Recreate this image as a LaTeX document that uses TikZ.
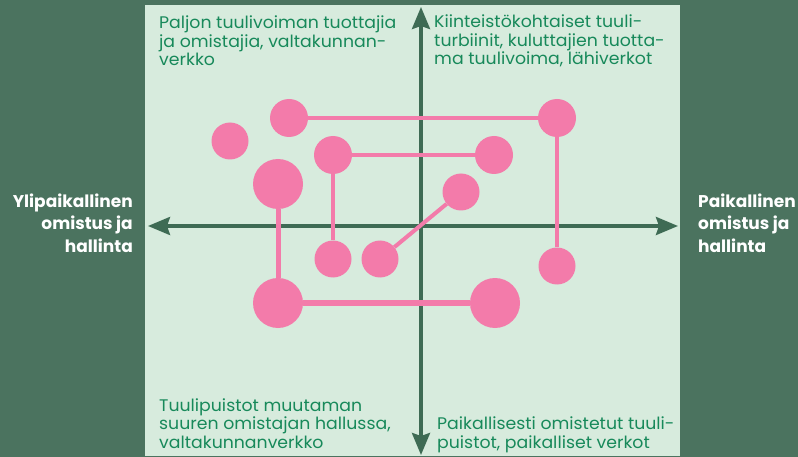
\documentclass[tikz,border=0pt]{standalone}
\usepackage{fontspec}
\setmainfont{Poppins}
\newfontfamily\qfont{Poppins}[FakeStretch=1.03]
\usetikzlibrary{arrows.meta}
\definecolor{darkbg}{HTML}{4B735F}
\definecolor{panel}{HTML}{D7EBDD}
\definecolor{axis}{HTML}{3E6B54}
\definecolor{pinkc}{HTML}{F37BAA}
\definecolor{txtg}{HTML}{17895A}
\tikzset{
  dot/.style={circle, fill=pinkc, inner sep=0pt, minimum size=#1},
  link/.style={draw=pinkc, line width=#1},
  axisline/.style={draw=axis, line width=3.5pt, -{Stealth[length=22pt,width=18pt,inset=3pt]}},
  qtext/.style={text=txtg, font=\qfont\fontsize{16.8}{18.5}\selectfont, align=left, inner sep=0pt},
  side/.style={text=white, font=\bfseries\fontsize{17}{23}\selectfont, inner sep=0pt}
}
\begin{document}
\begin{tikzpicture}[x=1pt,y=-1pt]
\useasboundingbox (0,0) rectangle (798,457);
\fill[darkbg] (0,0) rectangle (798,457);
\fill[panel] (145,5) rectangle (680,456);
% axes
\coordinate (c) at (421,226);
\coordinate (l) at (148,226);
\coordinate (r) at (678,226);
\coordinate (t) at (421,7);
\coordinate (b) at (421,455);
\draw[axisline] (c) -- (l);
\draw[axisline] (c) -- (r);
\draw[axisline] (c) -- (t);
\draw[axisline] (c) -- (b);
% dots
\node[dot=37pt] (A) at (230,141) {};
\node[dot=38pt] (B) at (289,118) {};
\node[dot=38pt] (C) at (333,155) {};
\node[dot=50pt] (D) at (278,184) {};
\node[dot=38pt] (E) at (557,118) {};
\node[dot=38pt] (F) at (494,155) {};
\node[dot=37pt] (G) at (461,192) {};
\node[dot=37pt] (H) at (333,259) {};
\node[dot=37pt] (I) at (380,259) {};
\node[dot=50pt] (J) at (278,303) {};
\node[dot=37pt] (K) at (557,266) {};
\node[dot=50pt] (L) at (495,303) {};
% links
\draw[link=4pt] (B) -- (E);
\draw[link=4pt] (E) -- (K);
\draw[link=4pt] (C) -- (F);
\draw[link=4pt] (C) -- (H);
\draw[link=4pt] (G) -- (I);
\draw[link=5pt] (D) -- (J);
\draw[link=6pt] (J) -- (L);
% quadrant texts (base anchor = baseline of last line)
\node[qtext, anchor=base west] (q1) at (159,66) {Paljon tuulivoiman tuottajia\\ja omistajia, valtakunnan-\\verkko};
\node[qtext, anchor=base west] (q2) at (434,65) {Kiinteistökohtaiset tuuli-\\turbiinit, kuluttajien tuotta-\\ma tuulivoima, lähiverkot};
\node[qtext, anchor=base west] (q3) at (159,448) {Tuulipuistot muutaman\\suuren omistajan hallussa,\\valtakunnanverkko};
\node[qtext, anchor=base west] (q4) at (437,448) {Paikallisesti omistetut tuuli-\\puistot, paikalliset verkot};
% side labels
\node[side, align=right, anchor=base east] (sl) at (133,253) {Ylipaikallinen\\omistus ja\\hallinta};
\node[side, align=left, anchor=base west] (sr) at (698,253) {Paikallinen\\omistus ja\\hallinta};
\end{tikzpicture}
\end{document}
